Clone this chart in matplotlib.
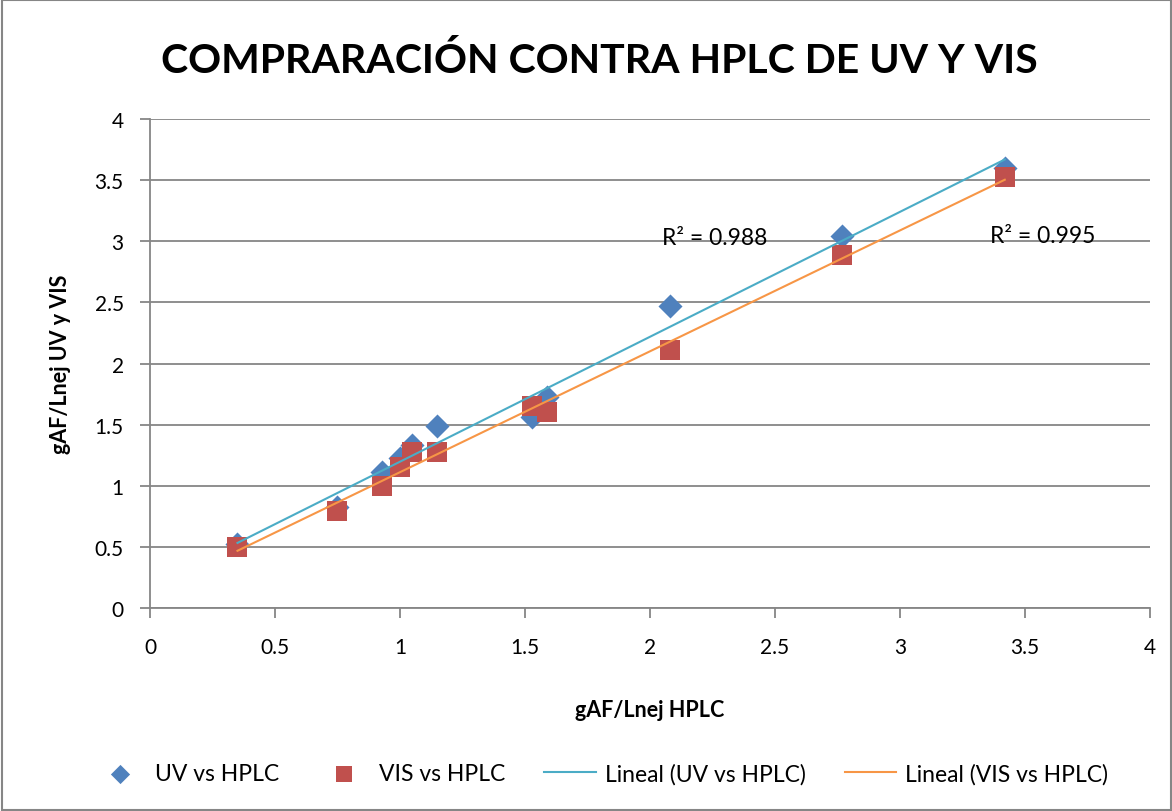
import numpy as np
import matplotlib.pyplot as plt
from matplotlib.patches import Rectangle

# datos
hplc = [0.35, 0.75, 0.93, 1.00, 1.05, 1.15, 1.53, 1.59, 2.08, 2.77, 3.42]
uv = [0.52, 0.83, 1.11, 1.23, 1.33, 1.49, 1.56, 1.73, 2.47, 3.04, 3.60]
vis = [0.50, 0.79, 1.00, 1.15, 1.28, 1.28, 1.65, 1.60, 2.11, 2.89, 3.53]
r2_uv = 0.988
r2_vis = 0.995

plt.rcParams['font.family'] = ['Lato', 'DejaVu Sans']

fig = plt.figure(figsize=(11.72, 8.12), dpi=100)
ax = fig.add_axes([0.128, 0.25, 0.853, 0.602])

ax.scatter(hplc, uv, marker='D', s=150, color='#4F81BD', label='UV vs HPLC', zorder=3, linewidths=0)
ax.scatter(hplc, vis, marker='s', s=220, color='#C0504D', label='VIS vs HPLC', zorder=3, linewidths=0)

xs = np.array([min(hplc), max(hplc)])
m1, b1 = np.polyfit(hplc, uv, 1)
m2, b2 = np.polyfit(hplc, vis, 1)
ax.plot(xs, m1 * xs + b1, color='#4BACC6', lw=1.5, label='Lineal (UV vs HPLC)', zorder=4)
ax.plot(xs, m2 * xs + b2, color='#F79646', lw=1.5, label='Lineal (VIS vs HPLC)', zorder=4)

ax.text(2.05, 3.03, 'R² = %.3f' % r2_uv, fontsize=16.5, va='center')
ax.text(3.36, 3.05, 'R² = %.3f' % r2_vis, fontsize=16.5, va='center')

ax.set_xlim(0, 4)
ax.set_ylim(0, 4)
ax.set_xticks(np.arange(0, 4.01, 0.5))
ax.set_yticks(np.arange(0, 4.01, 0.5))
ax.set_xticklabels(['0', '0.5', '1', '1.5', '2', '2.5', '3', '3.5', '4'])
ax.set_yticklabels(['0', '0.5', '1', '1.5', '2', '2.5', '3', '3.5', '4'])
ax.tick_params(labelsize=15, color='#868686', length=7, width=1.3)
ax.tick_params(axis='x', pad=14)
ax.tick_params(axis='y', pad=12)
ax.yaxis.grid(True, color='#868686', lw=1.3)
ax.set_axisbelow(True)
for s in ['top', 'right']:
    ax.spines[s].set_visible(False)
for s in ['left', 'bottom']:
    ax.spines[s].set_color('#868686')
    ax.spines[s].set_linewidth(1.3)

ax.set_xlabel('gAF/Lnej HPLC', fontsize=15.5, fontweight='bold', labelpad=30)
ax.set_ylabel('gAF/Lnej UV y VIS', fontsize=15.5, fontweight='bold', labelpad=17)
fig.suptitle('COMPRARACIÓN CONTRA HPLC DE UV Y VIS', fontsize=29.5, fontweight='bold',
             x=0.511, y=0.925, va='center')

fig.legend(loc='center', bbox_to_anchor=(0.513, 0.046), ncol=4, frameon=False, fontsize=16.5,
           handlelength=2.25, handletextpad=0.4, columnspacing=1.7, scatterpoints=1, markerscale=0.8)

fig.patches.append(Rectangle((0.002, 0.001), 0.997, 0.998, transform=fig.transFigure,
                             fill=False, edgecolor='#868686', lw=1.5))

fig.savefig('out.png', dpi=100)
